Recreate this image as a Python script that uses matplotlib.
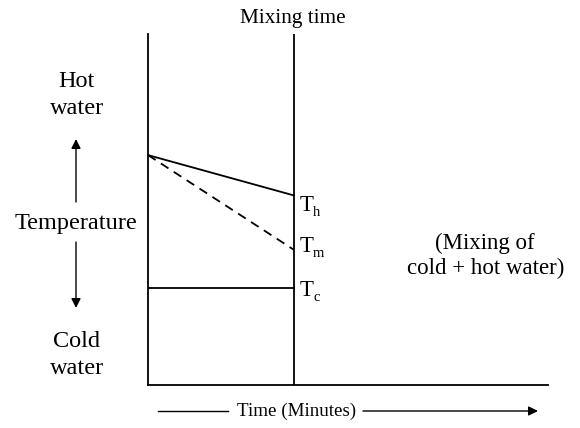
import matplotlib
matplotlib.use("Agg")
import matplotlib.pyplot as plt
from matplotlib.patches import FancyArrowPatch
from matplotlib.lines import Line2D

plt.rcParams['font.family'] = ['Liberation Serif', 'DejaVu Serif']

# Time axis (arbitrary units) and temperatures (arbitrary units)
t_start = 0.0
t_mix = 36.5
t_end = 100.0
T_start = 65.5
T_hot = 54.0
T_mixed = 38.5
T_cold = 27.6
temp_names = ["T", "T", "T"]
temp_subs = ["h", "m", "c"]

W, H = 580, 428
fig = plt.figure(figsize=(W / 100, H / 100), dpi=100)
ax = fig.add_axes([148 / W, (H - 385) / H, 400 / W, 351 / H])
ax.set_xlim(t_start, t_end)
ax.set_ylim(0, 100)
for s in ["top", "right"]:
    ax.spines[s].set_visible(False)
for s in ["left", "bottom"]:
    ax.spines[s].set_linewidth(1.3)
ax.set_xticks([])
ax.set_yticks([])

lw = 1.3
ax.axvline(t_mix, color="black", lw=lw)
ax.plot([t_start, t_mix], [T_start, T_hot], color="black", lw=lw)
ax.plot([t_start, t_mix], [T_start, T_mixed], color="black", lw=lw, ls=(0, (5, 3.5)))
ax.plot([t_start, t_mix], [T_cold, T_cold], color="black", lw=lw)


def fp(x, y):
    # figure fraction from a pixel position measured from the top-left
    return (x / W, 1 - y / H)


fs = 16.5
fs_side = 17.5

# curve labels with small subscripts
for (yb, name, sub) in zip([211, 252, 296], temp_names, temp_subs):
    fig.text(*fp(300, yb), name, fontsize=fs, ha="left", va="baseline")
    fig.text(*fp(313, yb + 5), sub, fontsize=10.5, ha="left", va="baseline")

fig.text(*fp(293, 23), "Mixing time", fontsize=15.3, ha="center", va="baseline")

fig.text(*fp(485, 249), "(Mixing of", fontsize=fs, ha="center", va="baseline")
fig.text(*fp(486, 274), "cold + hot water)", fontsize=fs, ha="center", va="baseline")

fig.text(*fp(76, 87), "Hot", fontsize=fs_side, ha="center", va="baseline")
fig.text(*fp(77, 114), "water", fontsize=fs_side, ha="center", va="baseline")
fig.text(*fp(76, 229), "Temperature", fontsize=fs_side, ha="center", va="baseline")
fig.text(*fp(76, 347), "Cold", fontsize=fs_side, ha="center", va="baseline")
fig.text(*fp(77, 374), "water", fontsize=fs_side, ha="center", va="baseline")

arrow = dict(arrowstyle="-|>", color="black", lw=1.0, mutation_scale=14,
             shrinkA=0, shrinkB=0, transform=fig.transFigure)
fig.add_artist(FancyArrowPatch(fp(76, 202), fp(76, 139), **arrow))
fig.add_artist(FancyArrowPatch(fp(76, 242), fp(76, 308), **arrow))

fig.text(*fp(297, 416), "Time (Minutes)", fontsize=13.7, ha="center", va="baseline")
fig.add_artist(Line2D([158 / W, 228 / W], [1 - 411 / H] * 2, color="black",
                      lw=1.0, transform=fig.transFigure))
fig.add_artist(FancyArrowPatch(fp(363, 411), fp(538, 411), **arrow))

fig.savefig("out.png", dpi=100)
